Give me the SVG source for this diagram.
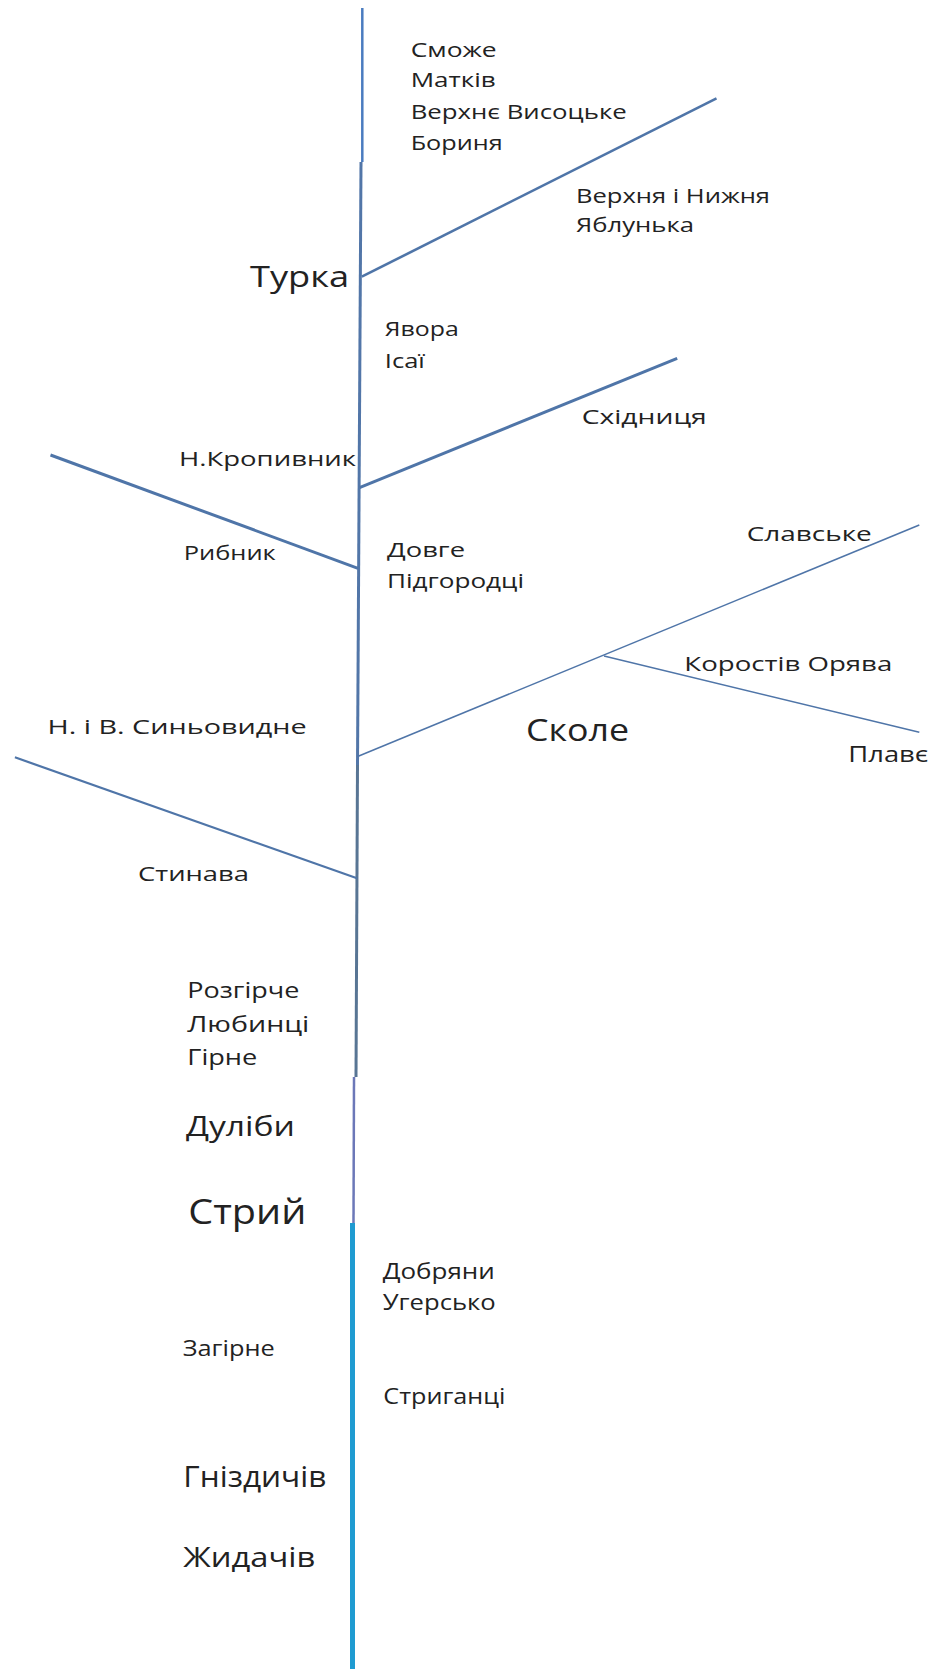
<svg xmlns="http://www.w3.org/2000/svg" width="933" height="1669" viewBox="0 0 933 1669">
<style>
.t{font-family:"Open Sans","Liberation Sans",sans-serif;fill:#222;font-size:20px}
.m{font-size:21px}
.b{font-size:29px}
.ln{stroke:#4f75a8;fill:none;stroke-linecap:butt}
</style>
<rect width="933" height="1669" fill="#fff"/>
<g id="connectors">
<line class="ln" x1="362.3" y1="8" x2="362.3" y2="162" style="stroke:#4a7cc0" stroke-width="2.5"/>
<line class="ln" x1="361" y1="162" x2="357.5" y2="765" style="stroke:#5276a8" stroke-width="3"/>
<line class="ln" x1="357.5" y1="765" x2="356" y2="1077" style="stroke:#587594" stroke-width="3"/>
<line class="ln" x1="354" y1="1077" x2="353.5" y2="1223" style="stroke:#6c78b8" stroke-width="2.5"/>
<line class="ln" x1="352.5" y1="1223" x2="352.5" y2="1669" style="stroke:#1f9bd1" stroke-width="5"/>
<line class="ln" x1="361.8" y1="276.7" x2="716.5" y2="98.3" stroke-width="2.6"/>
<line class="ln" x1="359.5" y1="487.7" x2="677.2" y2="358.3" stroke-width="3"/>
<line class="ln" x1="50.5" y1="455" x2="358" y2="568.3" stroke-width="3"/>
<line class="ln" x1="357" y1="756.7" x2="919.3" y2="525" stroke-width="1.5"/>
<line class="ln" x1="604" y1="656" x2="919.3" y2="732.3" stroke-width="1.5"/>
<line class="ln" x1="14.9" y1="757.3" x2="357" y2="878.3" stroke-width="2.2"/>
</g>
<g id="n-smozhe"><text class="t" x="410.7" y="56.7" textLength="86" lengthAdjust="spacingAndGlyphs">Сможе</text></g>
<g id="n-matkiv"><text class="t" x="410.7" y="87.3" textLength="85" lengthAdjust="spacingAndGlyphs">Матків</text></g>
<g id="n-vysotske"><text class="t" x="410.7" y="119" textLength="216" lengthAdjust="spacingAndGlyphs">Верхнє Висоцьке</text></g>
<g id="n-borynia"><text class="t" x="410.7" y="150" textLength="92" lengthAdjust="spacingAndGlyphs">Бориня</text></g>
<g id="n-yablunka"><text class="t" x="576" y="202.7" textLength="194" lengthAdjust="spacingAndGlyphs">Верхня і Нижня</text><text class="t" x="576" y="232" textLength="118" lengthAdjust="spacingAndGlyphs">Яблунька</text></g>
<g id="n-turka"><text class="t b" x="250" y="287.3" textLength="99" lengthAdjust="spacingAndGlyphs">Турка</text></g>
<g id="n-yavora"><text class="t" x="384.8" y="336" textLength="74" lengthAdjust="spacingAndGlyphs">Явора</text></g>
<g id="n-isai"><text class="t" x="384.8" y="367.7" textLength="40" lengthAdjust="spacingAndGlyphs">Ісаї</text></g>
<g id="n-skhidnytsia"><text class="t" x="581.7" y="424.3" textLength="125" lengthAdjust="spacingAndGlyphs">Східниця</text></g>
<g id="n-kropyvnyk"><text class="t" x="179" y="465.7" textLength="177" lengthAdjust="spacingAndGlyphs">Н.Кропивник</text></g>
<g id="n-rybnyk"><text class="t" x="183.7" y="560" textLength="92" lengthAdjust="spacingAndGlyphs">Рибник</text></g>
<g id="n-dovhe"><text class="t" x="387" y="556.7" textLength="78" lengthAdjust="spacingAndGlyphs">Довге</text></g>
<g id="n-pidhorodtsi"><text class="t" x="387" y="587.7" textLength="137" lengthAdjust="spacingAndGlyphs">Підгородці</text></g>
<g id="n-slavske"><text class="t" x="746.8" y="541" textLength="125" lengthAdjust="spacingAndGlyphs">Славське</text></g>
<g id="n-korostiv"><text class="t" x="684.3" y="670.7" textLength="208" lengthAdjust="spacingAndGlyphs">Коростів Орява</text></g>
<g id="n-skole"><text class="t" x="526" y="740.7" style="font-size:31px" textLength="103" lengthAdjust="spacingAndGlyphs">Сколе</text></g>
<g id="n-plave"><text class="t m" x="848.3" y="761.7" textLength="80" lengthAdjust="spacingAndGlyphs">Плавє</text></g>
<g id="n-synovydne"><text class="t" x="47.6" y="734" textLength="259" lengthAdjust="spacingAndGlyphs">Н. і В. Синьовидне</text></g>
<g id="n-stynava"><text class="t" x="138" y="881" textLength="111" lengthAdjust="spacingAndGlyphs">Стинава</text></g>
<g id="n-rozhirche"><text class="t m" x="187.3" y="998.3" textLength="112" lengthAdjust="spacingAndGlyphs">Розгірче</text></g>
<g id="n-liubyntsi"><text class="t m" x="187.3" y="1031.7" textLength="122" lengthAdjust="spacingAndGlyphs">Любинці</text></g>
<g id="n-hirne"><text class="t m" x="187.3" y="1065" textLength="70" lengthAdjust="spacingAndGlyphs">Гірне</text></g>
<g id="n-duliby"><text class="t" x="186" y="1136" style="font-size:28px" textLength="109" lengthAdjust="spacingAndGlyphs">Дуліби</text></g>
<g id="n-stryi"><text class="t" x="188.3" y="1224" style="font-size:35px" textLength="118" lengthAdjust="spacingAndGlyphs">Стрий</text></g>
<g id="n-dobriany"><text class="t m" x="382.7" y="1279.3" textLength="112" lengthAdjust="spacingAndGlyphs">Добряни</text></g>
<g id="n-uhersko"><text class="t m" x="382.7" y="1310" textLength="113" lengthAdjust="spacingAndGlyphs">Угерсько</text></g>
<g id="n-zahirne"><text class="t m" x="182.7" y="1356" textLength="92" lengthAdjust="spacingAndGlyphs">Загірне</text></g>
<g id="n-stryhantsi"><text class="t m" x="383.3" y="1404.3" textLength="122" lengthAdjust="spacingAndGlyphs">Стриганці</text></g>
<g id="n-hnizdychiv"><text class="t" x="183.3" y="1487.3" style="font-size:30px" textLength="143" lengthAdjust="spacingAndGlyphs">Гніздичів</text></g>
<g id="n-zhydachiv"><text class="t" x="183.3" y="1566.7" style="font-size:28px" textLength="132" lengthAdjust="spacingAndGlyphs">Жидачів</text></g>
</svg>
